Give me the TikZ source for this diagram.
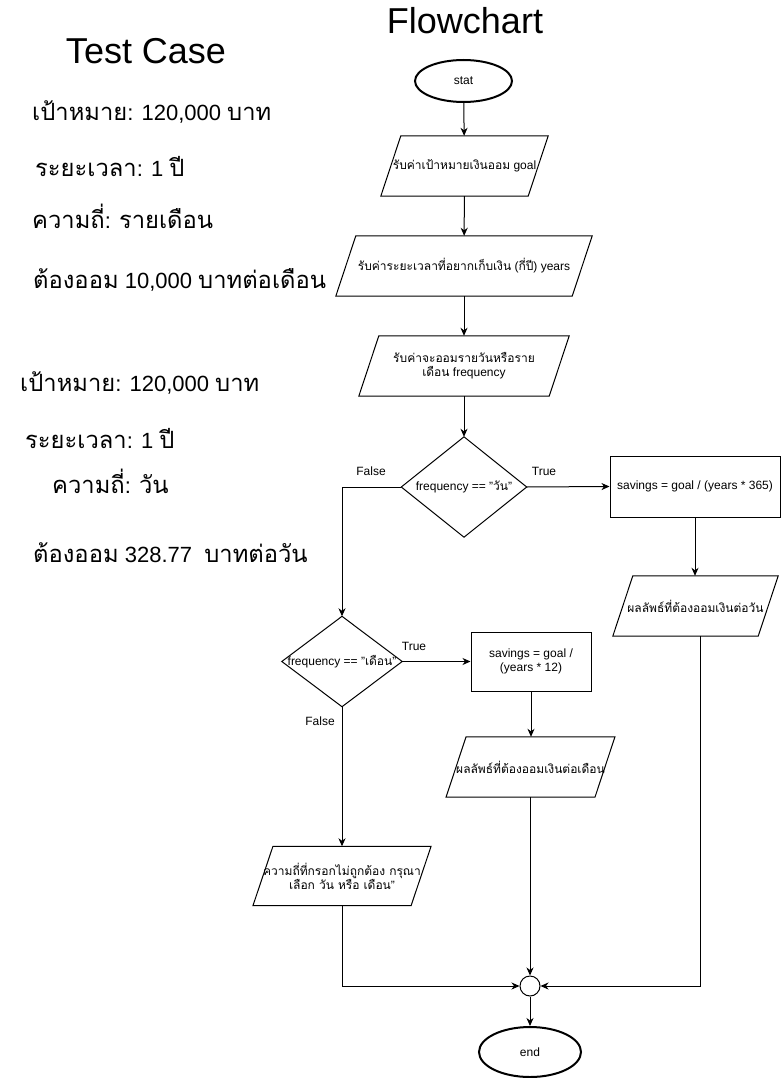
\documentclass[tikz,border=0pt]{standalone}
\usepackage{fontspec}
\setmainfont{Liberation Sans}
\newfontfamily\thaifont[Script=Thai]{Loma}
\newfontfamily\thaibig[Script=Thai,Scale=1.08]{Loma}
\newcommand\thx[1]{{\thaifont #1}}
\newcommand\thy[1]{{\thaibig #1}}
\usetikzlibrary{arrows.meta,shapes.geometric}
\tikzset{
  base/.style={font=\fontsize{12}{14}\selectfont, align=center, inner sep=0pt},
  blank/.style={base, rectangle, minimum width=#1},
  box/.style={base, draw, line width=1pt, rectangle},
  term/.style={base, draw, line width=2pt, ellipse},
  junc/.style={draw, line width=1pt, circle, minimum size=20pt, inner sep=0pt},
  lab/.style={font=\fontsize{12}{14}\selectfont, inner sep=0pt},
  tc/.style={font=\fontsize{22}{26}\selectfont, anchor=base west, inner sep=0pt},
  ttl/.style={font=\fontsize{36}{40}\selectfont, inner sep=0pt},
  arr/.style={line width=1pt, -{Stealth[length=8pt,width=7pt,inset=2.5pt]}},
  outline/.style={line width=1pt, line join=miter}
}
\newcommand\paraline[1]{\draw[outline] ([xshift=10pt]#1.north west) -- ([xshift=10pt]#1.north east) -- ([xshift=-10pt]#1.south east) -- ([xshift=-10pt]#1.south west) -- cycle;}
\newcommand\diamline[1]{\draw[outline] (#1.north) -- (#1.east) -- (#1.south) -- (#1.west) -- cycle;}
\begin{document}
\begin{tikzpicture}[x=1pt,y=-1pt]
\useasboundingbox (0,0) rectangle (781,1078);
\fill[white] (0,0) rectangle (781,1078);

% titles
\node[ttl] (tct) at (146,51) {Test Case};
\node[ttl] (fct) at (465,21) {Flowchart};

% test case texts
\node[tc] (a1) at (32,121) {\thy{เป้าหมาย}: 120,000 \thy{บาท}};
\node[tc] (a2) at (35,177) {\thy{ระยะเวลา}: 1 \thy{ปี}};
\node[tc] (a3) at (32,228) {\thy{ความถี่}: \thy{รายเดือน}};
\node[tc] (a4) at (33,288) {\thy{ต้องออม} 10,000 \thy{บาทต่อเดือน}};
\node[tc] (b1) at (20,391) {\thy{เป้าหมาย}: 120,000 \thy{บาท}};
\node[tc] (b2) at (25,448) {\thy{ระยะเวลา}: 1 \thy{ปี}};
\node[tc] (b3) at (52,493) {\thy{ความถี่}: \thy{วัน}};
\node[tc] (b4) at (33,562) {\thy{ต้องออม} 328.77\ \ \thy{บาทต่อวัน}};

% flowchart nodes
\node[term, minimum width=97pt, minimum height=42pt] (start) at (463.5,81) {stat};

\node[blank=147pt, minimum height=60pt] (p1) at (464.5,166) {\thx{รับค่าเป้าหมายเงินออม} goal};
\paraline{p1}
\node[blank=236pt, minimum height=60pt] (p2) at (464,266) {\thx{รับค่าระยะเวลาที่อยากเก็บเงิน} (\thx{กี่ปี}) years};
\paraline{p2}
\node[blank=190pt, minimum height=60pt] (p3) at (464,366) {\thx{รับค่าจะออมรายวันหรือราย}\\\thx{เดือน} frequency};
\paraline{p3}

\node[blank=125pt, minimum height=100pt] (d1) at (464,487) {frequency == "\thx{วัน}"};
\diamline{d1}

\node[box, minimum width=170pt, minimum height=61pt] (r1) at (695,486.5) {savings = goal / (years * 365)};

\node[blank=145pt, minimum height=60pt] (p4) at (695.5,606) {\thx{ผลลัพธ์ที่ต้องออมเงินต่อวัน}};
\paraline{p4}

\node[blank=120pt, minimum height=90pt] (d2) at (342,661.5) {frequency == "\thx{เดือน}"};
\diamline{d2}

\node[box, minimum width=120pt, minimum height=59pt] (r2) at (531,661.5) {savings = goal /\\(years * 12)};

\node[blank=145pt, minimum height=60pt] (p5) at (530.5,767) {\thx{ผลลัพธ์ที่ต้องออมเงินต่อเดือน}};
\paraline{p5}

\node[blank=140pt, minimum height=59pt] (p6) at (342,876) {\thx{ความถี่ที่กรอกไม่ถูกต้อง กรุณา}\\\thx{เลือก วัน หรือ เดือน}"};
\paraline{p6}

\node[junc] (j) at (530,986) {};
\node[term, minimum width=102pt, minimum height=50pt] (end) at (530,1052) {end};

% connectors
\draw[arr] (start) -- (p1);
\draw[arr] (p1) -- (p2);
\draw[arr] (p2) -- (p3);
\draw[arr] (p3) -- (d1);
\draw[arr] (d1.east) -- (r1.west);
\draw[arr] (d1.west) -| (d2.north);
\draw[arr] (r1) -- (r1 |- p4.north);
\draw[arr] (d2.east) -- (r2.west);
\draw[arr] (r2.south) -- (r2 |- p5.north);
\draw[arr] (d2.south) -- (p6.north);
\draw[arr] ([xshift=-0.5pt]p5.south) -- (j.north);
\draw[arr] (p6.south) |- (j.west);
\draw[arr] ([xshift=4.5pt]p4.south) |- (j.east);
\draw[arr] (j.south) -- (end.north);

% edge labels
\node[lab] (t1) at (544,471) {True};
\node[lab] (f1) at (371,471) {False};
\node[lab] (t2) at (414,646) {True};
\node[lab] (f2) at (320,721) {False};
\end{tikzpicture}
\end{document}
